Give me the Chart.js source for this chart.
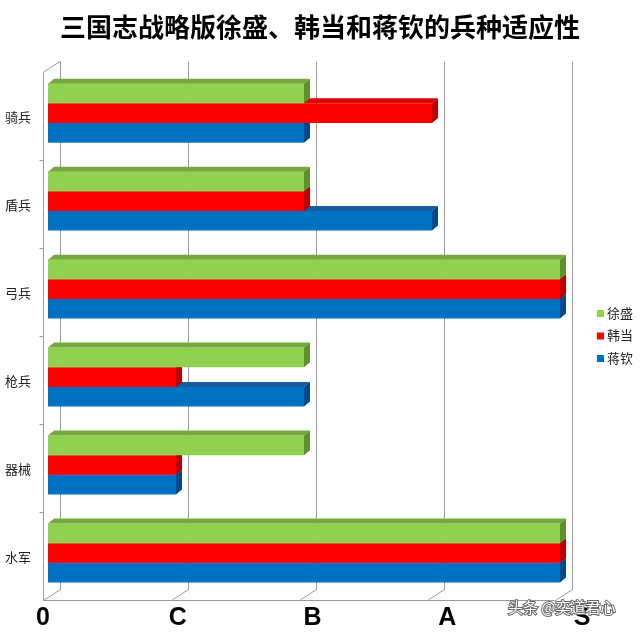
<!DOCTYPE html>
<html>
<head>
<meta charset="utf-8">
<script src="https://cdn.jsdelivr.net/npm/chart.js@4.4.1/dist/chart.umd.min.js"></script>
<style>
  html, body { margin: 0; padding: 0; background: #ffffff; }
  #wrap { width: 640px; height: 632px; }
</style>
</head>
<body>
<div id="wrap"><canvas id="c" width="640" height="632"></canvas></div>
<script>
const categories = ['骑兵', '盾兵', '弓兵', '枪兵', '器械', '水军'];
const gradeLabels = ['0', 'C', 'B', 'A', 'S'];
const seriesNames = ['徐盛', '韩当', '蒋钦'];
const xuSheng  = [2, 2, 4, 2, 2, 4];
const hanDang  = [3, 2, 4, 1, 1, 4];
const jiangQin = [2, 3, 4, 2, 1, 4];
const titleText = '三国志战略版徐盛、韩当和蒋钦的兵种适应性';
const watermark = '头条 @奕道君心';

const frontColors = ['#92D050', '#FF0000', '#0070C0'];
const topColors   = ['#76A840', '#E00000', '#165CA0'];
const sideColors  = ['#5F8F30', '#B80000', '#004A8C'];

const DX = 6, DY = 5;          // bar extrusion
const WALL_DX = 17, WALL_DY = 11;
const gridColor = '#9a9a9a';

function line(ctx, x1, y1, x2, y2) {
  ctx.beginPath();
  ctx.moveTo(x1, y1);
  ctx.lineTo(x2, y2);
  ctx.stroke();
}

const wallPlugin = {
  id: 'walls',
  beforeDatasetsDraw(chart) {
    const ctx = chart.ctx, a = chart.chartArea, xs = chart.scales.x;
    ctx.save();
    ctx.strokeStyle = gridColor;
    ctx.lineWidth = 1;
    const frontBottom = a.bottom + 3.5;
    const backBottom = frontBottom - WALL_DY;
    const backTop = a.top - 7.5;
    const x0 = xs.getPixelForValue(0) - 5;
    for (let v = 0; v < gradeLabels.length; v++) {
      const fx = Math.round(xs.getPixelForValue(v) - 5) + 0.5;
      const bx = fx + WALL_DX;
      line(ctx, bx, backTop, bx, backBottom);
      line(ctx, fx, frontBottom, bx, backBottom);
    }
    const lx = Math.round(x0) + 0.5;
    line(ctx, lx, a.top + 3, lx, frontBottom);
    line(ctx, lx, a.top + 3, lx + WALL_DX, a.top + 3 - WALL_DY);
    line(ctx, lx, frontBottom, Math.round(xs.getPixelForValue(gradeLabels.length - 1) - 5) + 0.5, frontBottom);
    const band = (a.bottom - a.top) / categories.length;
    for (let i = 1; i < categories.length; i++) {
      const y = Math.round(a.top + i * band + 3) + 0.5;
      line(ctx, lx - 4, y, lx, y);
    }
    ctx.restore();
  }
};

const extrudePlugin = {
  id: 'extrude',
  afterDatasetDraw(chart, args) {
    const ctx = chart.ctx;
    const i = args.index;
    ctx.save();
    args.meta.data.forEach(el => {
      const p = el.getProps(['x', 'y', 'base', 'height'], true);
      const left = Math.min(p.base, p.x), right = Math.max(p.base, p.x);
      const top = p.y - p.height / 2, bottom = p.y + p.height / 2;
      ctx.fillStyle = topColors[i];
      ctx.beginPath();
      ctx.moveTo(left, top);
      ctx.lineTo(left + DX, top - DY);
      ctx.lineTo(right + DX, top - DY);
      ctx.lineTo(right, top);
      ctx.closePath();
      ctx.fill();
      ctx.fillStyle = sideColors[i];
      ctx.beginPath();
      ctx.moveTo(right, top);
      ctx.lineTo(right + DX, top - DY);
      ctx.lineTo(right + DX, bottom - DY);
      ctx.lineTo(right, bottom);
      ctx.closePath();
      ctx.fill();
    });
    ctx.restore();
  }
};

const overlayPlugin = {
  id: 'overlay',
  afterDraw(chart) {
    const ctx = chart.ctx, a = chart.chartArea, xs = chart.scales.x;
    ctx.save();
    // x tick labels on perspective floor
    ctx.font = 'bold 25px "Liberation Sans", Arial, sans-serif';
    ctx.fillStyle = '#000';
    ctx.textAlign = 'center';
    ctx.textBaseline = 'middle';
    xs.ticks.forEach(t => {
      const px = xs.getPixelForValue(t.value);
      const lx = a.left + (px - a.left) * 1.053 - 5;
      ctx.fillText(gradeLabels[t.value], lx, a.bottom + 21);
    });
    // legend
    ctx.font = '13px "Noto Sans CJK SC", sans-serif';
    ctx.textAlign = 'left';
    const ly0 = 313, lstep = 22.5;
    seriesNames.forEach((name, k) => {
      const y = ly0 + k * lstep;
      ctx.fillStyle = frontColors[k];
      ctx.fillRect(597, y - 3, 7, 7);
      ctx.fillStyle = '#222';
      ctx.fillText(name, 607, y);
    });
    // watermark
    ctx.font = '15px "Noto Sans CJK SC", sans-serif';
    ctx.lineWidth = 2;
    ctx.strokeStyle = '#6a6a6a';
    ctx.strokeText(watermark, 508, 607);
    ctx.fillStyle = '#ffffff';
    ctx.fillText(watermark, 508, 607);
    ctx.restore();
  }
};

const seriesData = [xuSheng, hanDang, jiangQin];

new Chart(document.getElementById('c'), {
  type: 'bar',
  data: {
    labels: categories,
    datasets: seriesNames.map((name, k) => ({
      label: name,
      data: seriesData[k],
      backgroundColor: frontColors[k],
      borderWidth: 0
    }))
  },
  options: {
    indexAxis: 'y',
    responsive: false,
    animation: false,
    layout: { padding: 0 },
    datasets: { bar: { categoryPercentage: 0.67, barPercentage: 1.0 } },
    scales: {
      x: {
        min: 0, max: 4,
        ticks: {
          stepSize: 1,
          callback: v => gradeLabels[v],
          font: { size: 24, weight: 'bold', family: 'Liberation Sans' },
          color: 'transparent',
          padding: 6
        },
        grid: { display: false, drawTicks: false },
        border: { display: false },
        afterFit(s) { s.height = 35; }
      },
      y: {
        ticks: {
          font: { size: 13, family: 'Noto Sans CJK SC' },
          color: '#222',
          padding: 17,
          labelOffset: 4
        },
        grid: { display: false, drawTicks: false },
        border: { display: false },
        afterFit(s) { s.width = 48; }
      },
      side: {
        type: 'category',
        position: 'right',
        axis: 'y',
        labels: categories,
        ticks: { display: false },
        grid: { display: false, drawTicks: false },
        border: { display: false },
        afterFit(s) { s.width = 80; }
      }
    },
    plugins: {
      legend: { display: false },
      tooltip: { enabled: false },
      title: {
        display: true,
        text: titleText,
        color: '#000',
        font: { size: 26, weight: 'bold', family: 'Noto Sans CJK SC' },
        padding: { top: 12, bottom: 26 }
      }
    }
  },
  plugins: [wallPlugin, extrudePlugin, overlayPlugin]
});
</script>
</body>
</html>
